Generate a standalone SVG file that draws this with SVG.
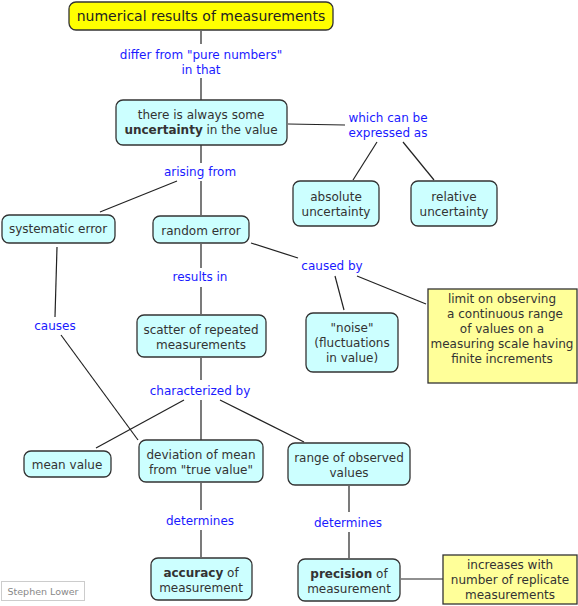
<svg xmlns="http://www.w3.org/2000/svg" width="578" height="606" viewBox="0 0 578 606">
<style>
.n{fill:#ccffff;stroke:#333;stroke-width:1.3}
.y{fill:#ffff99;stroke:#333;stroke-width:1.3}
.t{font-family:"DejaVu Sans",Verdana,sans-serif;font-size:12px;fill:#333;text-anchor:middle}
.l{font-family:"DejaVu Sans",Verdana,sans-serif;font-size:12px;fill:#1a1aff;text-anchor:middle}
.c line{stroke:#222;stroke-width:1.2}
</style>
<rect width="578" height="606" fill="#fff"/>
<g class="c" id="connectors">
<line x1="201" y1="31" x2="201" y2="44"/>
<line x1="201" y1="78" x2="201" y2="100"/>
<line x1="288" y1="124" x2="345" y2="125"/>
<line x1="377" y1="142" x2="353" y2="180"/>
<line x1="403" y1="142" x2="434" y2="180"/>
<line x1="201" y1="145" x2="201" y2="163"/>
<line x1="177" y1="181" x2="100" y2="212"/>
<line x1="201" y1="181" x2="201" y2="215"/>
<line x1="251" y1="243" x2="298" y2="258"/>
<line x1="335" y1="276" x2="344" y2="310"/>
<line x1="357" y1="276" x2="426" y2="304"/>
<line x1="201" y1="244" x2="201" y2="268"/>
<line x1="201" y1="287" x2="201" y2="314"/>
<line x1="57" y1="247" x2="55" y2="317"/>
<line x1="61" y1="335" x2="138" y2="440"/>
<line x1="201" y1="358" x2="201" y2="380"/>
<line x1="184" y1="400" x2="96" y2="448"/>
<line x1="201" y1="400" x2="201" y2="440"/>
<line x1="220" y1="400" x2="304" y2="442"/>
<line x1="201" y1="483" x2="201" y2="510"/>
<line x1="201" y1="530" x2="201" y2="557"/>
<line x1="349" y1="486" x2="349" y2="512"/>
<line x1="349" y1="532" x2="349" y2="558"/>
<line x1="401" y1="579" x2="443" y2="579"/>
</g>
<g id="link-labels">
<text class="l" x="201" y="59">differ from "pure numbers"</text>
<text class="l" x="201" y="74">in that</text>
<text class="l" x="388" y="122">which can be</text>
<text class="l" x="388" y="137">expressed as</text>
<text class="l" x="200" y="176">arising from</text>
<text class="l" x="332" y="270">caused by</text>
<text class="l" x="200" y="281">results in</text>
<text class="l" x="55" y="330">causes</text>
<text class="l" x="200" y="395">characterized by</text>
<text class="l" x="200" y="525">determines</text>
<text class="l" x="348" y="527">determines</text>
</g>
<g id="title">
<rect x="69" y="2" width="264" height="28" rx="7" fill="#ffff00" stroke="#333" stroke-width="1.3"/>
<text class="t" x="201" y="21" style="font-size:14px;fill:#222">numerical results of measurements</text>
</g>
<g id="uncertainty">
<rect class="n" x="116" y="100" width="171" height="45" rx="7"/>
<text class="t" x="201" y="119">there is always some</text>
<text class="t" x="201" y="134"><tspan font-weight="bold">uncertainty</tspan> in the value</text>
</g>
<g id="absolute">
<rect class="n" x="293" y="181" width="86" height="45" rx="7"/>
<text class="t" x="336" y="201">absolute</text>
<text class="t" x="336" y="216">uncertainty</text>
</g>
<g id="relative">
<rect class="n" x="411" y="181" width="86" height="45" rx="7"/>
<text class="t" x="454" y="201">relative</text>
<text class="t" x="454" y="216">uncertainty</text>
</g>
<g id="systematic">
<rect class="n" x="2" y="215" width="113" height="28" rx="7"/>
<text class="t" x="58" y="233">systematic error</text>
</g>
<g id="random">
<rect class="n" x="153" y="216" width="96" height="27" rx="7"/>
<text class="t" x="201" y="235">random error</text>
</g>
<g id="noise">
<rect class="n" x="306" y="313" width="92" height="59" rx="7"/>
<text class="t" x="352" y="332">"noise"</text>
<text class="t" x="352" y="347">(fluctuations</text>
<text class="t" x="352" y="362">in value)</text>
</g>
<g id="limit">
<rect class="y" x="428" y="289" width="149" height="94"/>
<text class="t" x="502" y="303">limit on observing</text>
<text class="t" x="505" y="318">a continuous range</text>
<text class="t" x="502" y="333">of values on a</text>
<text class="t" x="502" y="348">measuring scale having</text>
<text class="t" x="502" y="363">finite increments</text>
</g>
<g id="scatter">
<rect class="n" x="137" y="315" width="129" height="42" rx="7"/>
<text class="t" x="201" y="334">scatter of repeated</text>
<text class="t" x="201" y="349">measurements</text>
</g>
<g id="mean">
<rect class="n" x="24" y="451" width="87" height="26" rx="7"/>
<text class="t" x="67" y="469">mean value</text>
</g>
<g id="deviation">
<rect class="n" x="139" y="440" width="124" height="42" rx="7"/>
<text class="t" x="201" y="459">deviation of mean</text>
<text class="t" x="201" y="474">from "true value"</text>
</g>
<g id="range">
<rect class="n" x="288" y="443" width="122" height="42" rx="7"/>
<text class="t" x="349" y="462">range of observed</text>
<text class="t" x="349" y="477">values</text>
</g>
<g id="accuracy">
<rect class="n" x="151" y="558" width="101" height="42" rx="7"/>
<text class="t" x="201" y="577"><tspan font-weight="bold">accuracy</tspan> of</text>
<text class="t" x="201" y="592">measurement</text>
</g>
<g id="precision">
<rect class="n" x="298" y="559" width="102" height="42" rx="7"/>
<text class="t" x="349" y="578"><tspan font-weight="bold">precision</tspan> of</text>
<text class="t" x="349" y="593">measurement</text>
</g>
<g id="increases">
<rect class="y" x="443" y="555" width="134" height="49"/>
<text class="t" x="510" y="569">increases with</text>
<text class="t" x="510" y="584">number of replicate</text>
<text class="t" x="510" y="599">measurements</text>
</g>
<g id="credit">
<rect x="1.5" y="581.5" width="83" height="19" fill="#fff" stroke="#ccc"/>
<text x="43" y="595" style="font-family:'DejaVu Sans',Verdana,sans-serif;font-size:9.5px;fill:#888;text-anchor:middle">Stephen Lower</text>
</g>
</svg>
